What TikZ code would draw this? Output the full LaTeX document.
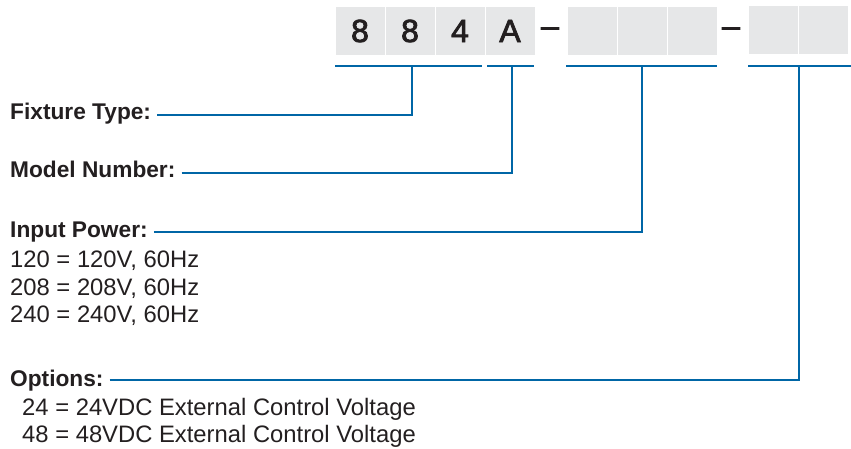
\documentclass[tikz,border=0pt]{standalone}
\usepackage{fontspec}
\setmainfont{Liberation Sans}
\newfontfamily\medfont[RawFeature={embolden=2.5}]{Liberation Sans}
\begin{document}
\begin{tikzpicture}[x=1pt,y=-1pt,
  every node/.style={text=txt},
  cell/.style={fill=cellgray,minimum width=49pt,minimum height=48pt,inner sep=0pt,font=\fontsize{32}{32}\medfont},
  dashtxt/.style={inner sep=0pt,font=\fontsize{32}{32}\medfont},
  head/.style={anchor=base west,inner sep=0pt,font=\fontsize{22.7}{22.7}\selectfont\bfseries},
  val/.style={anchor=base west,inner sep=0pt,font=\fontsize{23.8}{23.8}\selectfont},
  conn/.style={draw=lineblue,line width=2.6pt,line join=miter,line cap=butt}]
\definecolor{txt}{HTML}{231F20}
\definecolor{cellgray}{HTML}{E6E7E8}
\definecolor{lineblue}{HTML}{0066A6}
\useasboundingbox (0,0) rectangle (851,449);
% code boxes
\node[cell] (b1) at (360,31) {8};
\node[cell] (b2) at (410,31) {8};
\node[cell] (b3) at (460,31) {4};
\node[cell] (b4) at (510,31) {A};
\node[dashtxt] (d1) at (550,32) {–};
\node[cell] (b5) at (592,31) {};
\node[cell] (b6) at (642,31) {};
\node[cell] (b7) at (692,31) {};
\node[dashtxt] (d2) at (731,32) {–};
\node[cell] (b8) at (773,30) {};
\node[cell] (b9) at (823,30) {};
% underline coordinates
\coordinate (u1a) at (335,66); \coordinate (u1b) at (482,66); \coordinate (u1) at (412,66);
\coordinate (u2a) at (487,66); \coordinate (u2b) at (534,66); \coordinate (u2) at (512,66);
\coordinate (u3a) at (566,66); \coordinate (u3b) at (717,66); \coordinate (u3) at (642,66);
\coordinate (u4a) at (748,66); \coordinate (u4b) at (851,66); \coordinate (u4) at (799,66);
\draw[conn] (u1a) -- (u1b);
\draw[conn] (u2a) -- (u2b);
\draw[conn] (u3a) -- (u3b);
\draw[conn] (u4a) -- (u4b);
% labels
\node[head] (ft) at (10,120) {Fixture Type:};
\node[head] (mn) at (10,178) {Model Number:};
\node[head] (ip) at (10,237) {Input Power:};
\node[val] (v1) at (10,267) {120 = 120V, 60Hz};
\node[val] (v2) at (10,295) {208 = 208V, 60Hz};
\node[val] (v3) at (10,322) {240 = 240V, 60Hz};
\node[head] (op) at (10,386) {Options:};
\node[val] (o1) at (22,415) {24 = 24VDC External Control Voltage};
\node[val] (o2) at (22,442) {48 = 48VDC External Control Voltage};
% connectors
\draw[conn] ([shift={(6,-5)}]ft.base east) -| (u1);
\draw[conn] ([shift={(6,-5)}]mn.base east) -| (u2);
\draw[conn] ([shift={(6,-5)}]ip.base east) -| (u3);
\draw[conn] ([shift={(6,-6)}]op.base east) -| (u4);
\end{tikzpicture}
\end{document}
